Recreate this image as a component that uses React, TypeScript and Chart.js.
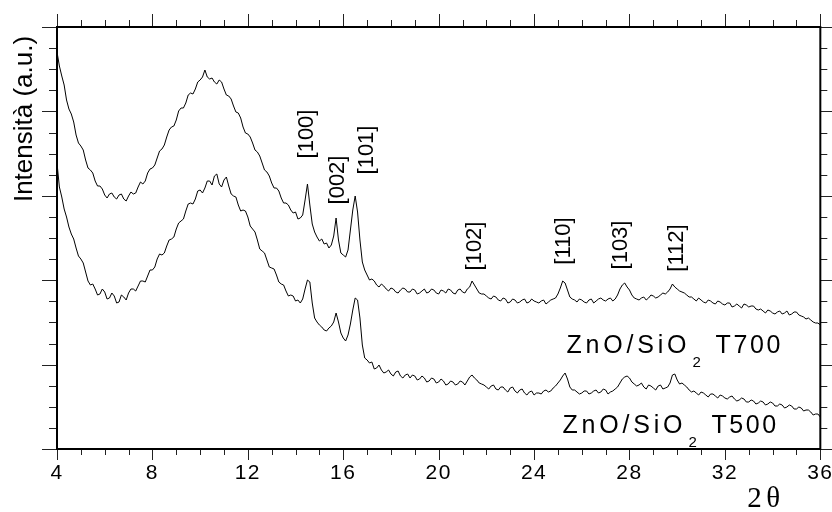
import React, { useEffect, useRef } from 'react';
import { Chart, registerables } from 'chart.js';

Chart.register(...registerables);

// 2θ angles (degrees), main scan grid
const angles = [
  4, 4.2, 4.4, 4.6, 4.8, 5, 5.2, 5.4, 5.6, 5.8,
  6, 6.2, 6.4, 6.6, 6.8, 7, 7.2, 7.4, 7.6, 7.8,
  8, 8.2, 8.4, 8.6, 8.8, 9, 9.2, 9.4, 9.6, 9.8,
  10, 10.2, 10.4, 10.6, 10.8, 11, 11.2, 11.4, 11.6, 11.8,
  12, 12.2, 12.4, 12.6, 12.8, 13, 13.2, 13.4, 13.6, 13.8,
  14, 14.1, 14.2, 14.3, 14.4, 14.5, 14.6, 14.7, 14.8, 14.9,
  15, 15.1, 15.2, 15.3, 15.4, 15.5, 15.6, 15.7, 15.8, 15.9,
  16, 16.1, 16.2, 16.3, 16.4, 16.5, 16.6, 16.7, 16.8, 16.9,
  17, 17.1, 17.2, 17.4, 17.6, 17.8, 18, 18.2, 18.4, 18.6,
  18.8, 19, 19.2, 19.4, 19.6, 19.8, 20, 20.2, 20.4, 20.6,
  20.8, 21, 21.2, 21.4, 21.6, 21.8, 22, 22.2, 22.4, 22.6,
  22.8, 23, 23.2, 23.4, 23.6, 23.8, 24, 24.2, 24.4, 24.6,
  24.8, 25, 25.2, 25.4, 25.6, 25.8, 26, 26.2, 26.4, 26.6,
  26.8, 27, 27.2, 27.4, 27.6, 27.8, 28, 28.2, 28.4, 28.6,
  28.8, 29, 29.2, 29.4, 29.6, 29.8, 30, 30.2, 30.4, 30.6,
  30.8, 31, 31.2, 31.4, 31.6, 31.8, 32, 32.2, 32.4, 32.6,
  32.8, 33, 33.2, 33.4, 33.6, 33.8, 34, 34.2, 34.4, 34.6,
  34.8, 35, 35.2, 35.4, 35.6, 35.8, 36,
];

// Intensity (a.u.) — ZnO/SiO2 T700 (upper trace), on `angles`
const t700 = [
  397, 373, 349, 335, 314, 303, 289, 279, 268, 263,
  254, 255, 252, 254, 250, 253, 255, 262, 265, 276,
  281, 291, 300, 312, 322, 329, 341, 346, 356, 360,
  369, 379, 370, 367, 369, 360, 353, 343, 336, 322,
  315, 306, 297, 286, 277, 266, 261, 251, 246, 239,
  237, 230, 231, 234, 249, 265, 244, 225, 217, 212,
  208, 210, 205, 206, 201, 204, 213, 231, 209, 196,
  194, 192, 199, 219, 239, 253, 237, 209, 187, 179,
  174, 169, 170, 164, 165, 160, 161, 157, 159, 160,
  157, 159, 156, 160, 157, 159, 155, 158, 160, 156,
  159, 157, 160, 168, 160, 155, 153, 150, 152, 148,
  150, 147, 149, 147, 150, 147, 148, 146, 149, 147,
  150, 155, 168, 159, 150, 147, 149, 146, 150, 148,
  151, 148, 151, 150, 160, 166, 159, 151, 149, 152,
  151, 153, 152, 156, 157, 165, 160, 157, 154, 152,
  148, 149, 146, 148, 145, 147, 144, 146, 143, 143,
  145, 142, 143, 139, 138, 139, 136, 137, 135, 138,
  135, 137, 133, 130, 129, 126, 124,
];

// Intensity (a.u.) — ZnO/SiO2 T500 (lower trace), on `angles`
const t500 = [
  286, 252, 232, 215, 201, 190, 177, 164, 160, 155,
  157, 151, 153, 147, 152, 156, 160, 163, 168, 173,
  179, 190, 194, 203, 210, 220, 228, 238, 246, 250,
  259, 261, 268, 273, 265, 269, 263, 253, 244, 239,
  232, 220, 209, 198, 189, 181, 174, 165, 158, 154,
  148, 149, 146, 150, 160, 169, 167, 146, 131, 127,
  124, 122, 119, 118, 121, 123, 127, 136, 127, 116,
  111, 108, 114, 125, 139, 151, 149, 131, 104, 91,
  89, 86, 87, 81, 79, 77, 75, 77, 73, 74,
  71, 73, 70, 71, 68, 70, 67, 68, 65, 67,
  65, 67, 68, 74, 69, 65, 62, 63, 60, 62,
  59, 61, 58, 59, 56, 57, 54, 56, 58, 57,
  61, 66, 73, 70, 59, 57, 56, 58, 56, 59,
  57, 59, 57, 60, 66, 72, 71, 65, 64, 62,
  64, 61, 63, 60, 62, 74, 69, 66, 62, 57,
  56, 57, 54, 55, 53, 54, 51, 52, 50, 49,
  50, 47, 48, 46, 47, 45, 46, 43, 44, 42,
  43, 40, 41, 39, 37, 35, 32,
];

// Extra scan points (noisy regions) between the main grid angles
const anglesFine = [
  4.1, 4.3, 4.5, 4.7, 4.9, 5.1, 5.3, 5.5, 5.7, 5.9,
  6.1, 6.3, 6.5, 6.7, 6.9, 7.1, 7.3, 7.5, 7.7, 7.9,
  8.1, 8.3, 8.5, 8.7, 8.9, 9.1, 9.3, 9.5, 9.7, 9.9,
  10.1, 10.3, 10.5, 10.7, 10.9, 11.1, 11.3, 11.5, 11.7, 11.9,
  12.1, 12.3, 12.5, 12.7, 12.9, 13.1, 13.3, 13.5, 13.7, 13.9,
  17.3, 17.5, 17.7, 17.9, 18.1, 18.3, 18.5, 18.7, 18.9, 19.1,
  19.3, 19.5, 19.7, 19.9, 20.1, 20.3, 20.5, 20.7, 20.9, 21.1,
  21.3, 21.5, 21.7, 21.9, 22.1, 22.3, 22.5, 22.7, 22.9, 23.1,
  23.3, 23.5, 23.7, 23.9, 24.1, 24.3, 24.5, 24.7, 24.9, 25.1,
  25.3, 25.5, 25.7, 25.9, 26.1, 26.3, 26.5, 26.7, 26.9, 27.1,
  27.3, 27.5, 27.7, 27.9, 28.1, 28.3, 28.5, 28.7, 28.9, 29.1,
  29.3, 29.5, 29.7, 29.9, 30.1, 30.3, 30.5, 30.7, 30.9, 31.1,
  31.3, 31.5, 31.7, 31.9, 32.1, 32.3, 32.5, 32.7, 32.9, 33.1,
  33.3, 33.5, 33.7, 33.9, 34.1, 34.3, 34.5, 34.7, 34.9, 35.1,
  35.3, 35.5, 35.7, 35.9,
];

const t700Fine = [
  383, 364, 340, 327, 306, 299, 281, 276, 263, 260,
  251, 256, 250, 255, 248, 257, 256, 267, 268, 280,
  284, 298, 304, 319, 323, 338, 341, 354, 355, 367,
  372, 372, 371, 365, 367, 354, 350, 337, 331, 316,
  312, 299, 293, 279, 273, 261, 258, 246, 244, 236,
  168, 162, 163, 158, 160, 156, 161, 157, 160, 155,
  158, 156, 160, 156, 159, 156, 159, 155, 160, 156,
  162, 164, 156, 155, 151, 153, 149, 151, 146, 150,
  146, 149, 146, 150, 147, 148, 145, 149, 151, 161,
  166, 152, 149, 150, 147, 149, 146, 150, 149, 150,
  148, 154, 164, 162, 154, 150, 151, 149, 154, 151,
  154, 155, 160, 162, 158, 156, 152, 150, 151, 147,
  149, 146, 148, 145, 146, 142, 145, 141, 144, 143,
  140, 140, 136, 138, 135, 138, 136, 134, 137, 134,
  132, 131, 127, 126,
];

const t500Fine = [
  262, 240, 222, 210, 193, 186, 168, 165, 154, 160,
  150, 156, 146, 154, 149, 160, 158, 168, 167, 179,
  182, 195, 196, 209, 212, 226, 230, 245, 245, 258,
  256, 268, 264, 275, 262, 272, 255, 252, 238, 238,
  223, 217, 200, 196, 182, 180, 167, 164, 153, 153,
  80, 84, 76, 79, 73, 78, 71, 75, 74, 69,
  73, 67, 71, 66, 70, 64, 68, 64, 68, 64,
  72, 71, 66, 64, 60, 64, 59, 62, 57, 62,
  56, 60, 54, 58, 56, 55, 59, 58, 63, 69,
  76, 62, 59, 55, 58, 55, 58, 56, 60, 55,
  58, 62, 70, 73, 67, 63, 66, 60, 63, 59,
  64, 61, 66, 75, 65, 64, 59, 58, 54, 56,
  52, 55, 51, 53, 50, 53, 48, 51, 47, 49,
  45, 48, 44, 47, 43, 45, 41, 44, 40, 42,
  38, 39, 34, 35,
];

// Peak (Miller index) annotations
const peakLabels = ['[100]', '[002]', '[101]', '[102]', '[110]', '[103]', '[112]'];
const peakLabelAngles = [14.47, 15.77, 16.98, 21.51, 25.24, 27.66, 30.01];
const peakLabelHeights = [315, 269, 299, 203, 208, 204, 201];

// Sample labels
const sampleMain = 'ZnO/SiO';
const sampleSub = '2';
const sampleNames = ['T700', 'T500'];
const sampleLabelAngles = [25.36, 25.19];
const sampleLabelHeights = [96, 16];

const xMin = 4;
const xMax = 36;
const xStep = 4;
const yMin = 0;
const yMax = 422;
const yTitle = 'Intensità (a.u.)';
const xTitleA = '2';
const xTitleB = 'θ';

const SANS = '"Liberation Sans", Arial, sans-serif';
const SERIF = '"Liberation Serif", "Times New Roman", serif';

function toPoints(xs: number[], ys: number[]) {
  return xs.map((a, i) => ({ x: a, y: ys[i] }));
}

function mergeScan(xs1: number[], ys1: number[], xs2: number[], ys2: number[]) {
  return [...toPoints(xs1, ys1), ...toPoints(xs2, ys2)].sort((p, q) => p.x - q.x);
}

function drawSpaced(ctx: CanvasRenderingContext2D, text: string, x: number, y: number, spacing: number) {
  let cx = x;
  for (const ch of text) {
    ctx.fillText(ch, cx, y);
    cx += ctx.measureText(ch).width + spacing;
  }
}

const decorPlugin = {
  id: 'decor',
  beforeDraw(chart: any) {
    try { (chart.ctx as any).letterSpacing = '1.5px'; } catch (e) { /* ignore */ }
  },
  beforeDatasetsDraw(chart: any) {
    try { (chart.ctx as any).letterSpacing = '0px'; } catch (e) { /* ignore */ }
  },
  afterDatasetsDraw(chart: any) {
    const ctx: CanvasRenderingContext2D = chart.ctx;
    const a = chart.chartArea;
    const x = chart.scales.x;
    const y = chart.scales.y;
    ctx.save();
    try { (ctx as any).letterSpacing = '0px'; } catch (e) { /* ignore */ }

    // tick marks (outward on all four sides)
    ctx.strokeStyle = '#222';
    ctx.lineWidth = 1;
    ctx.beginPath();
    for (let v = xMin; v <= xMax; v++) {
      const px = Math.round(x.getPixelForValue(v)) + 0.5;
      const major = (v - xMin) % xStep === 0;
      ctx.moveTo(px, a.top);
      ctx.lineTo(px, a.top - (major ? 13 : 7));
      ctx.moveTo(px, a.bottom);
      ctx.lineTo(px, a.bottom + (major ? 11 : 6));
    }
    for (let i = 0; i <= 20; i++) {
      const py = Math.round(y.getPixelForValue(yMin + ((yMax - yMin) * i) / 20)) + 0.5;
      const major = i % 4 === 0;
      ctx.moveTo(a.left, py);
      ctx.lineTo(a.left - (major ? 15 : 8), py);
      ctx.moveTo(a.right, py);
      ctx.lineTo(a.right + (major ? 12 : 7), py);
    }
    ctx.stroke();

    // frame
    ctx.strokeStyle = '#000';
    ctx.lineWidth = 2;
    ctx.strokeRect(a.left, a.top, a.right - a.left, a.bottom - a.top);

    ctx.fillStyle = '#000';

    // peak labels (rotated)
    ctx.font = `22px ${SANS}`;
    ctx.textAlign = 'center';
    ctx.textBaseline = 'middle';
    peakLabels.forEach((lab, i) => {
      const px = x.getPixelForValue(peakLabelAngles[i]);
      const py = y.getPixelForValue(peakLabelHeights[i]);
      ctx.save();
      ctx.translate(px, py);
      ctx.rotate(-Math.PI / 2);
      ctx.fillText(lab, 0, 0);
      ctx.restore();
    });

    // sample labels
    ctx.textAlign = 'left';
    ctx.textBaseline = 'alphabetic';
    sampleNames.forEach((name, i) => {
      const px = x.getPixelForValue(sampleLabelAngles[i]);
      const py = y.getPixelForValue(sampleLabelHeights[i]);
      ctx.font = `25px ${SANS}`;
      drawSpaced(ctx, sampleMain, px, py, 3.8);
      ctx.font = `15px ${SANS}`;
      ctx.fillText(sampleSub, px + 126, py + 14);
      ctx.font = `25px ${SANS}`;
      drawSpaced(ctx, name, px + 149, py, 2.6);
    });

    // y title
    ctx.font = `26px ${SANS}`;
    ctx.textAlign = 'center';
    ctx.textBaseline = 'alphabetic';
    ctx.save();
    ctx.translate(a.left - 25.5, a.top + 92);
    ctx.rotate(-Math.PI / 2);
    ctx.fillText(yTitle, 0, 0);
    ctx.restore();

    // x title (2θ)
    ctx.font = `29px ${SERIF}`;
    ctx.textAlign = 'left';
    ctx.fillText(xTitleA, a.right - 73, a.bottom + 58);
    ctx.fillText(xTitleB, a.right - 54, a.bottom + 58);

    ctx.restore();
  },
};

export default function App() {
  const ref = useRef<HTMLCanvasElement>(null);

  useEffect(() => {
    const canvas = ref.current;
    if (!canvas) return;
    const chart = new Chart(canvas, {
      type: 'line',
      data: {
        datasets: [
          {
            label: 'ZnO/SiO2 T700',
            data: mergeScan(angles, t700, anglesFine, t700Fine),
            borderColor: '#000',
            borderWidth: 1,
            pointRadius: 0,
            tension: 0,
            fill: false,
          },
          {
            label: 'ZnO/SiO2 T500',
            data: mergeScan(angles, t500, anglesFine, t500Fine),
            borderColor: '#000',
            borderWidth: 1,
            pointRadius: 0,
            tension: 0,
            fill: false,
          },
        ],
      },
      options: {
        responsive: false,
        devicePixelRatio: 1,
        animation: false,
        layout: { padding: { left: 57, right: 11, top: 27, bottom: 26.4 } },
        plugins: { legend: { display: false }, tooltip: { enabled: false } },
        scales: {
          x: {
            type: 'linear',
            min: xMin,
            max: xMax,
            position: 'bottom',
            grid: { display: false, drawTicks: true, tickLength: 11.4 },
            border: { display: false },
            ticks: {
              stepSize: xStep,
              color: '#000',
              padding: 0,
              maxRotation: 0,
              autoSkip: false,
              font: { family: SANS, size: 21 },
            },
          },
          y: {
            type: 'linear',
            min: yMin,
            max: yMax,
            display: false,
          },
        },
      },
      plugins: [decorPlugin],
    } as any);
    return () => chart.destroy();
  }, []);

  return (
    <div style={{ position: 'fixed', left: 0, top: 0, width: 832, height: 512, background: '#fff' }}>
      <canvas ref={ref} width={832} height={512} style={{ display: 'block', width: 832, height: 512 }} />
    </div>
  );
}
